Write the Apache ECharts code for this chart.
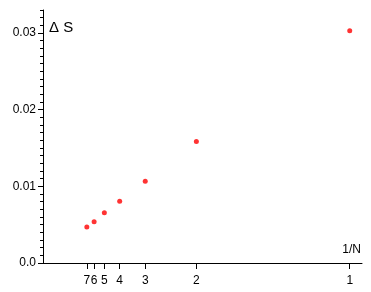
<!DOCTYPE html>
<html><head><meta charset="utf-8">
<script src="https://cdn.jsdelivr.net/npm/echarts@6/dist/echarts.min.js"></script>
<style>html,body{margin:0;padding:0;background:#fff}#c{width:371px;height:292px}</style>
</head><body><div id="c"></div>
<script>
var nValues = [7, 6, 5, 4, 3, 2, 1];
var deltaS = [0.00468, 0.00537, 0.00654, 0.00805, 0.01065, 0.01584, 0.0303];
var yTickLabels = [0, 0.01, 0.02, 0.03];

var xs = nValues.map(function (n) { return 1 / n; });
var points = xs.map(function (x, i) { return [x, deltaS[i]]; });
var font = 'Liberation Sans, Arial, sans-serif';

var chart = echarts.init(document.getElementById('c'));
chart.setOption({
  animation: false,
  grid: { left: 43, right: 9, top: 10, bottom: 29 },
  xAxis: {
    type: 'value', min: 0, max: 1.04,
    splitLine: { show: false },
    axisLine: { lineStyle: { color: '#000', width: 1 } },
    axisTick: { customValues: xs, length: 6, lineStyle: { color: '#000' } },
    axisLabel: { customValues: xs, margin: 12, color: '#000', fontSize: 12, fontFamily: font,
      formatter: function (v) { return String(Math.round(1 / v)); } }
  },
  yAxis: [{
    type: 'value', min: 0, max: 0.033,
    splitLine: { show: false },
    axisLine: { show: true, lineStyle: { color: '#000', width: 1 } },
    axisTick: { customValues: yTickLabels, length: 5, lineStyle: { color: '#000' } },
    axisLabel: { customValues: yTickLabels, margin: 7, color: '#000', fontSize: 12, fontFamily: font,
      formatter: function (v) { return v === 0 ? '0.0' : v.toFixed(2); } }
  }, {
    type: 'value', min: 0, max: 0.033, interval: 0.001, position: 'left',
    splitLine: { show: false },
    axisLine: { show: false },
    axisTick: { show: true, length: 3, lineStyle: { color: '#000' } },
    axisLabel: { show: false }
  }],
  graphic: [
    { type: 'text', left: 49, top: 20, style: { text: 'Δ S', font: '15px ' + font, fill: '#000' } },
    { type: 'text', right: 10, top: 244, style: { text: '1/N', font: '12px ' + font, fill: '#000' } }
  ],
  series: [{
    type: 'scatter', data: points, symbol: 'circle', symbolSize: 5,
    itemStyle: { color: '#ff0000' }
  }]
});
</script></body></html>
